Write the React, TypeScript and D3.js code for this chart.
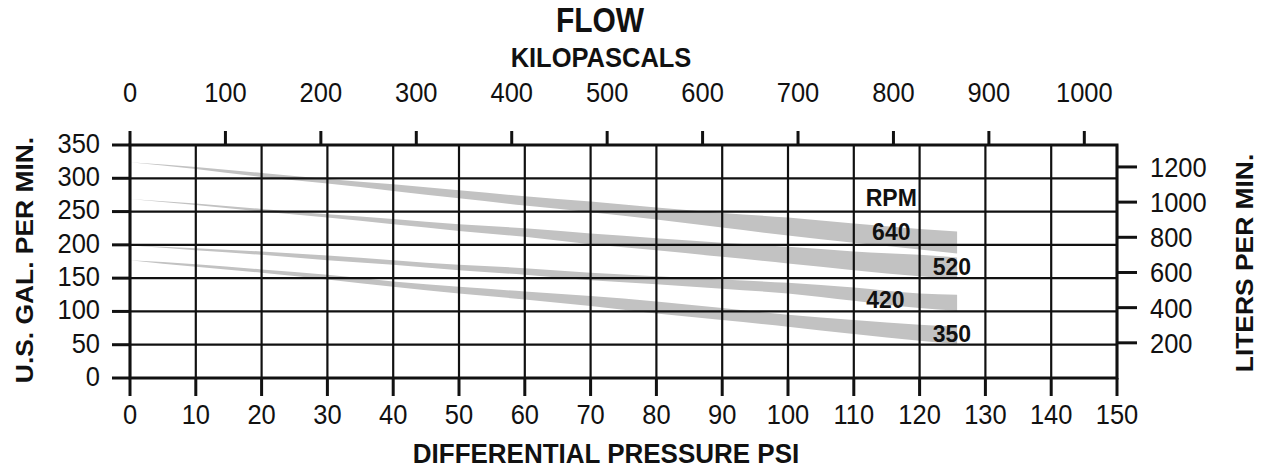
import React from 'react'
import * as d3 from 'd3'

// axis ticks
const psiTicks = [0, 10, 20, 30, 40, 50, 60, 70, 80, 90, 100, 110, 120, 130, 140, 150]
const gpmTicks = [0, 50, 100, 150, 200, 250, 300, 350]
const kpaTicks = [0, 100, 200, 300, 400, 500, 600, 700, 800, 900, 1000]
const lpmTicks = [200, 400, 600, 800, 1000, 1200]

const KPA_PER_PSI = 6.895
const LPM_PER_GPM = 3.785

// flow bands (upper / lower edge, US gpm) read at these pressures
const bandPsi = [0, 10, 20, 30, 40, 50, 60, 70, 80, 90, 100, 110, 120, 125.7]
const rpm640Hi = [324, 317, 308, 299, 291, 282, 273, 265, 256, 248, 241, 232, 224, 220]
const rpm640Lo = [324, 314, 302, 292, 281, 270, 259, 249, 238, 226, 214, 203, 193, 187]
const rpm520Hi = [269, 262, 254, 246, 239, 231, 225, 217, 210, 203, 197, 190, 185, 181]
const rpm520Lo = [269, 260, 250, 241, 231, 221, 212, 201, 192, 182, 172, 162, 153, 149]
const rpm420Hi = [199, 195, 190, 184, 177, 170, 165, 158, 153, 148, 143, 136, 127, 125]
const rpm420Lo = [199, 192, 185, 177, 170, 162, 155, 147, 141, 134, 127, 116, 105, 101]
const rpm350Hi = [177, 171, 163, 155, 145, 137, 130, 123, 115, 105, 95, 87, 80, 77]
const rpm350Lo = [177, 167, 158, 148, 137, 127, 118, 108, 97, 87, 77, 66, 56, 51]

const bands = [
  { rpm: '640', hi: rpm640Hi, lo: rpm640Lo },
  { rpm: '520', hi: rpm520Hi, lo: rpm520Lo },
  { rpm: '420', hi: rpm420Hi, lo: rpm420Lo },
  { rpm: '350', hi: rpm350Hi, lo: rpm350Lo },
]

// label anchors in chart units (psi, gpm)
const rpmLabels = [
  { text: 'RPM', psi: 115.7, gpm: 258 },
  { text: '640', psi: 115.7, gpm: 207 },
  { text: '520', psi: 124.9, gpm: 155 },
  { text: '420', psi: 114.8, gpm: 105 },
  { text: '350', psi: 124.9, gpm: 54 },
]

const font = "'Liberation Sans', Arial, Helvetica, sans-serif"

function Txt(props: {
  x: number, y: number, size: number, sy?: number, bold?: boolean,
  anchor?: string, rot?: boolean, mid?: boolean, children: any
}) {
  const sy = props.sy || 1
  let t = 'translate(' + props.x + ',' + props.y + ') scale(1,' + sy + ')'
  if (props.rot) t += ' rotate(-90)'
  return (
    <text
      transform={t}
      y={props.mid ? props.size * 0.358 : 0}
      fontSize={props.size}
      fontFamily={font}
      fontWeight={props.bold ? 'bold' : 'normal'}
      textAnchor={props.anchor || 'middle'}
      fill='#111'
    >
      {props.children}
    </text>
  )
}

export default function App() {
  const width = 1272, height = 472
  const x = d3.scaleLinear().domain([0, 150]).range([130, 1117])
  const y = d3.scaleLinear().domain([0, 350]).range([378, 145])
  const xKpa = (k: number) => x(k / KPA_PER_PSI)
  const yLpm = (l: number) => y(l / LPM_PER_GPM)

  const area = (hi: number[], lo: number[]) =>
    d3.area<number>()
      .x((d, i) => x(bandPsi[i]))
      .y0((d, i) => y(lo[i]))
      .y1((d, i) => y(hi[i]))
      .curve(d3.curveMonotoneX)(bandPsi) || ''

  const left = x(0), right = x(150), top = y(350), bottom = y(0)
  const tick = 18
  const ink = '#111'
  const tickFont = 25.5, tickSy = 1.08

  return (
    <svg width={width} height={height} style={{ position: 'absolute', left: 0, top: 0, background: '#fff' }}>
      {bands.map(b => (
        <path key={b.rpm} d={area(b.hi, b.lo)} fill='#c2c2c2' />
      ))}

      {/* grid */}
      {psiTicks.map(p => (
        <line key={'v' + p} x1={x(p)} x2={x(p)} y1={top} y2={bottom} stroke={ink} strokeWidth={2.2} />
      ))}
      {gpmTicks.map(g => (
        <line key={'h' + g} x1={left} x2={right} y1={y(g)} y2={y(g)} stroke={ink} strokeWidth={2.2} />
      ))}

      {/* frame */}
      <rect x={left} y={top} width={right - left} height={bottom - top} fill='none' stroke={ink} strokeWidth={3} />

      {/* bottom ticks and labels */}
      {psiTicks.map(p => (
        <g key={'b' + p}>
          <line x1={x(p)} x2={x(p)} y1={bottom} y2={bottom + tick} stroke={ink} strokeWidth={3} />
          <Txt x={x(p)} y={424} size={tickFont} sy={tickSy}>{p}</Txt>
        </g>
      ))}

      {/* left ticks and labels */}
      {gpmTicks.map(g => (
        <g key={'l' + g}>
          <line x1={left - tick} x2={left} y1={y(g)} y2={y(g)} stroke={ink} strokeWidth={3} />
          <Txt x={100} y={y(g) - 2} size={tickFont} sy={tickSy} anchor='end' mid>{g}</Txt>
        </g>
      ))}

      {/* top kilopascal ticks and labels */}
      {kpaTicks.map(k => (
        <g key={'t' + k}>
          <line x1={xKpa(k)} x2={xKpa(k)} y1={top} y2={top - 14} stroke={ink} strokeWidth={3} />
          <Txt x={xKpa(k)} y={102} size={tickFont} sy={tickSy}>{k}</Txt>
        </g>
      ))}

      {/* right liters ticks and labels */}
      {lpmTicks.map(l => (
        <g key={'r' + l}>
          <line x1={right} x2={right + tick + 2} y1={yLpm(l)} y2={yLpm(l)} stroke={ink} strokeWidth={3} />
          <Txt x={1150} y={yLpm(l)} size={tickFont} sy={tickSy} anchor='start' mid>{l}</Txt>
        </g>
      ))}

      {rpmLabels.map(r => (
        <Txt key={r.text} x={x(r.psi)} y={y(r.gpm)} size={23} bold>{r.text}</Txt>
      ))}

      <Txt x={600} y={32} size={30} sy={1.15} bold>FLOW</Txt>
      <Txt x={601} y={67} size={25.5} sy={1.05} bold>KILOPASCALS</Txt>
      <Txt x={606} y={463} size={26} sy={1.05} bold>DIFFERENTIAL PRESSURE PSI</Txt>
      <Txt x={33} y={260} size={24} sy={1.1} bold rot>U.S. GAL. PER MIN.</Txt>
      <Txt x={1253} y={263} size={24} sy={1.1} bold rot>LITERS PER MIN.</Txt>
    </svg>
  )
}
